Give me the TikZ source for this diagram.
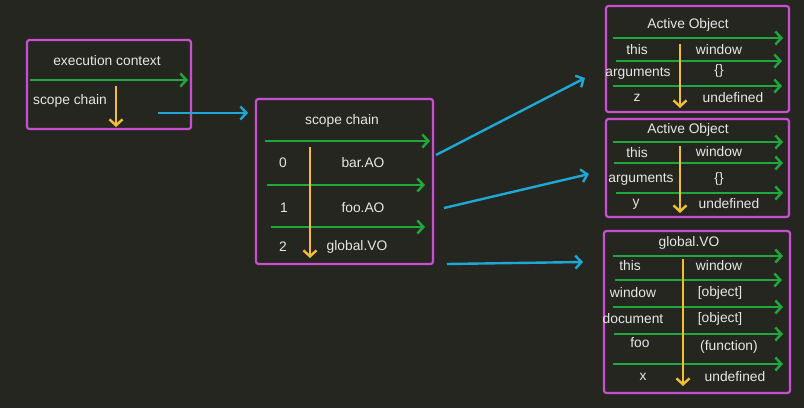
\documentclass[tikz,border=0pt]{standalone}
\usepackage{fontspec}
\setmainfont{Liberation Sans}
\usetikzlibrary{arrows.meta}
\definecolor{fundo}{RGB}{38,38,33}
\definecolor{roxo}{RGB}{200,80,208}
\definecolor{verde}{RGB}{32,168,62}
\definecolor{amarelo}{RGB}{240,192,52}
\definecolor{azul}{RGB}{30,168,214}
\definecolor{cinza}{RGB}{230,230,230}
\tikzset{
  caixa/.style={draw=roxo,line width=2.2pt,rounded corners=2.5pt},
  seta/.style={line width=2.4pt,-{Straight Barb[length=6pt,width=13pt]}},
  sverde/.style={seta,draw=verde},
  samarela/.style={seta,draw=amarelo},
  sazul/.style={seta,draw=azul},
  rotulo/.style={text=cinza,inner sep=0pt,font=\fontsize{13.8}{16}\selectfont},
}
\begin{document}
\begin{tikzpicture}[x=1pt,y=-1pt]
%fundo escuro com o tamanho da figura
 \useasboundingbox (0,0) rectangle (804,408);
 \fill[fundo] (0,0) rectangle (804,408);
%caixa do execution context
 \draw[caixa] (27,40) rectangle (191,129);
 \node[rotulo] (ectit) at (107,61) {execution context};
 \draw[sverde] (30,80) -- (188,80);
 \node[rotulo,anchor=west] (ecsc) at (33,101) {scope chain};
 \draw[samarela] (116,86) -- (116,127);
%caixa da scope chain
 \draw[caixa] (256,99) rectangle (433,264);
 \node[rotulo] (sctit) at (342,121) {scope chain};
 \draw[sverde] (265,141) -- (430,141);
 \draw[sverde] (267,185) -- (425,185);
 \draw[sverde] (271,227) -- (425,227);
 \draw[samarela] (310,147) -- (310,258);
 \node[rotulo] (sc0) at (283,163) {0};
 \node[rotulo] (sc0v) at (363,163) {bar.AO};
 \node[rotulo] (sc1) at (284,208) {1};
 \node[rotulo] (sc1v) at (363,208) {foo.AO};
 \node[rotulo] (sc2) at (283,247) {2};
 \node[rotulo] (sc2v) at (357,247) {global.VO};
%primeiro active object
 \draw[caixa] (606,6) rectangle (789,112);
 \node[rotulo] (aotit) at (688,25) {Active Object};
 \draw[sverde] (613,38) -- (783,38);
 \draw[sverde] (616,61) -- (782,61);
 \draw[sverde] (613,86) -- (782,86);
 \draw[samarela] (680,44) -- (680,108);
 \node[rotulo] (aothis) at (637,50) {this};
 \node[rotulo] (aothisv) at (719,50) {window};
 \node[rotulo] (aoarg) at (638,73) {arguments};
 \node[rotulo] (aoargv) at (719,71) {\{\}};
 \node[rotulo] (aoz) at (637,98) {z};
 \node[rotulo] (aozv) at (733,98) {undefined};
%segundo active object
 \draw[caixa] (606,119) rectangle (789,217);
 \node[rotulo] (botit) at (688,130) {Active Object};
 \draw[sverde] (613,142) -- (783,142);
 \draw[sverde] (614,163) -- (783,163);
 \draw[sverde] (616,193) -- (783,193);
 \draw[samarela] (680,146) -- (680,213);
 \node[rotulo] (bothis) at (637,153) {this};
 \node[rotulo] (bothisv) at (719,152) {window};
 \node[rotulo] (boarg) at (641,179) {arguments};
 \node[rotulo] (boargv) at (719,179) {\{\}};
 \node[rotulo] (boy) at (636,204) {y};
 \node[rotulo] (boyv) at (729,204) {undefined};
%global.VO
 \draw[caixa] (604,231) rectangle (790,393);
 \node[rotulo] (gotit) at (689,243) {global.VO};
 \draw[sverde] (613,256) -- (783,256);
 \draw[sverde] (615,280) -- (782,280);
 \draw[sverde] (613,307) -- (783,307);
 \draw[sverde] (614,334) -- (783,334);
 \draw[sverde] (613,364) -- (783,364);
 \draw[samarela] (683,259) -- (683,386);
 \node[rotulo] (gothis) at (630,266) {this};
 \node[rotulo] (gothisv) at (719,266) {window};
 \node[rotulo] (gowin) at (633,293) {window};
 \node[rotulo] (gowinv) at (720,293) {[object]};
 \node[rotulo] (godoc) at (633,319) {document};
 \node[rotulo] (godocv) at (720,319) {[object]};
 \node[rotulo] (gofoo) at (640,343) {foo};
 \node[rotulo] (gofoov) at (729,347) {(function)};
 \node[rotulo] (gox) at (643,377) {x};
 \node[rotulo] (goxv) at (735,377) {undefined};
%setas azuis entre as caixas
 \coordinate (ecsai) at (158,113);
 \coordinate (scent) at (248,113);
 \coordinate (sc0sai) at (436,155);
 \coordinate (aoent) at (585,78);
 \coordinate (sc1sai) at (444,208);
 \coordinate (boent) at (589,174);
 \coordinate (sc2sai) at (447,264);
 \coordinate (goent) at (583,262);
 \draw[sazul] (ecsai) -- (scent);
 \draw[sazul] (sc0sai) -- (aoent);
 \draw[sazul] (sc1sai) -- (boent);
 \draw[sazul] (sc2sai) -- (goent);
\end{tikzpicture}
\end{document}
